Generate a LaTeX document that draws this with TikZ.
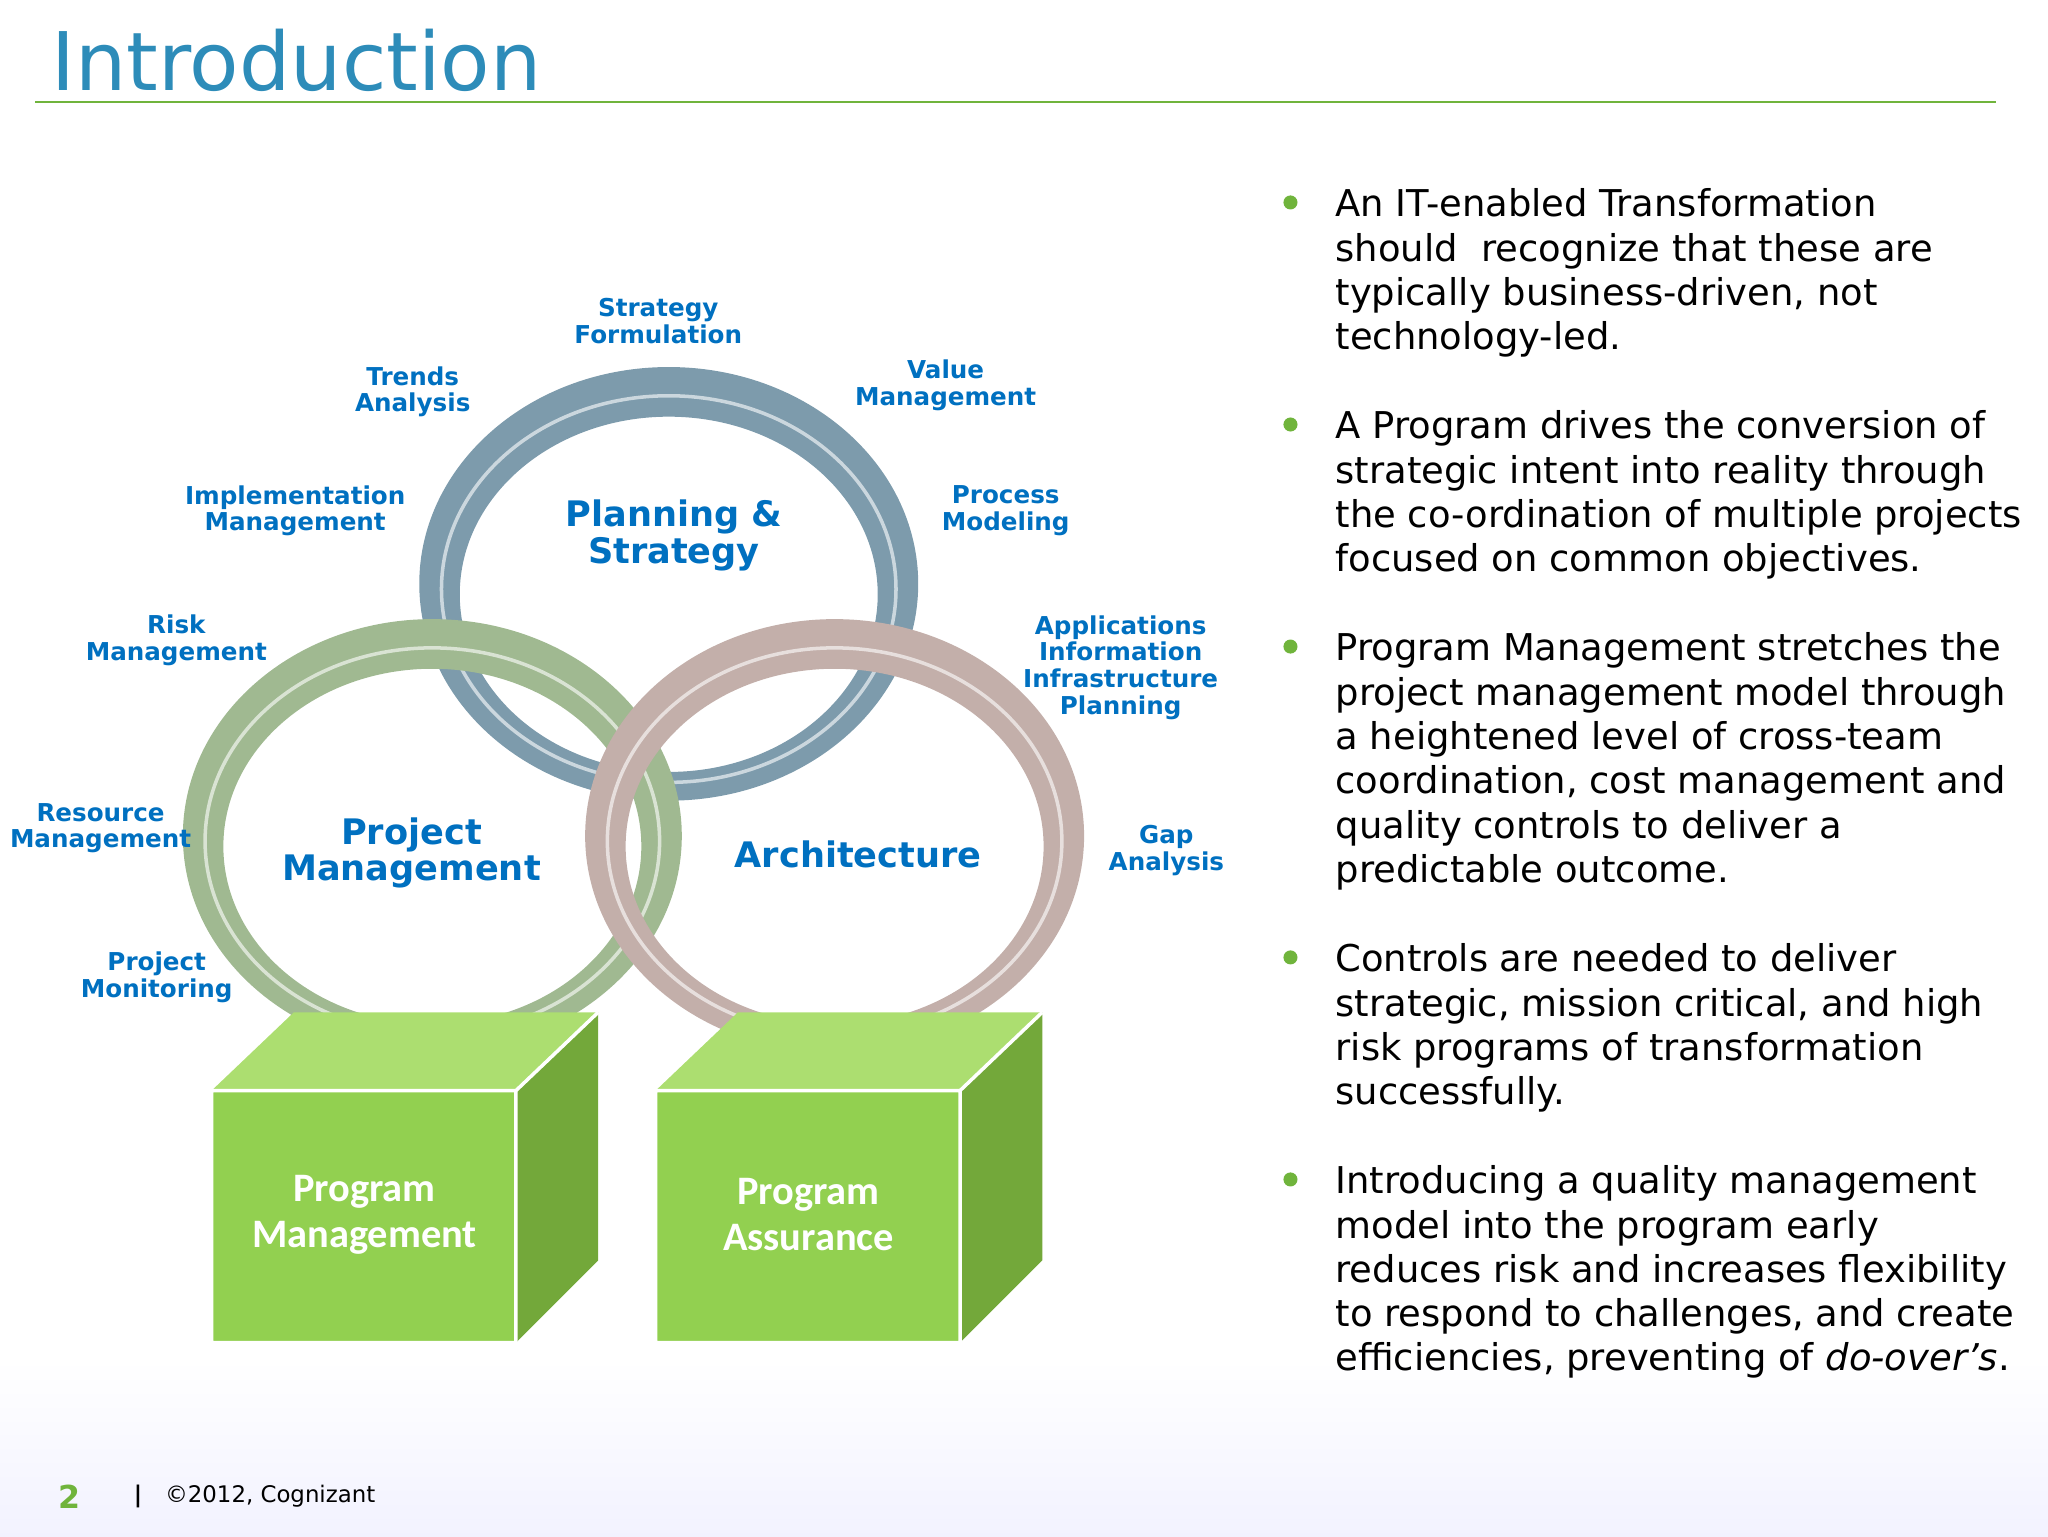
\documentclass[tikz,border=0pt]{standalone}
\usepackage{fontspec}
\setmainfont{DejaVu Sans}
\newfontfamily\carl{Carlito}
\definecolor{lb}{RGB}{0,112,192}
\definecolor{ttl}{RGB}{45,140,185}
\definecolor{rp}{RGB}{125,155,172}
\definecolor{rg}{RGB}{160,185,145}
\definecolor{ra}{RGB}{195,175,170}
\definecolor{cf}{RGB}{146,208,80}
\definecolor{ct}{RGB}{172,222,112}
\definecolor{cs}{RGB}{115,168,58}
\definecolor{gd}{RGB}{112,180,60}
\begin{document}
\begin{tikzpicture}[x=0.1306mm,y=-0.1306mm,
 lab/.style={font=\fontsize{7}{7.6}\selectfont\bfseries,text=lb,align=center},
 big/.style={font=\fontsize{10}{10.5}\selectfont\bfseries,text=lb,align=center},
 cube/.style={font=\carl\fontsize{11.5}{13}\selectfont\bfseries,text=white,align=center},
 bul/.style={anchor=north west,align=left,inner sep=0,font=\fontsize{10.5}{12.6}\selectfont},
 dot/.style={circle,fill=gd,inner sep=0,minimum size=4pt}]
\useasboundingbox (0,0) rectangle (1568,1176);
\shade[top color=white,bottom color=blue!5] (0,1040) rectangle (1568,1176);
\node[anchor=west,text=ttl,font=\fontsize{23}{25}\selectfont] (title) at (30,46) {Introduction};
\draw[gd,line width=0.6pt] (27,78) -- (1528,78);
% rings
\def\ring#1#2#3{\fill[#3,even odd rule] (#1,#2) ellipse [x radius=191,y radius=166] (#1,#2+8) ellipse [x radius=160,y radius=136];
 \draw[white!60!#3,line width=1pt] (#1,#2+4) ellipse [x radius=174,y radius=148];}
\ring{512}{447}{rp}
\ring{331}{640}{rg}
\ring{639}{640}{ra}
% cubes
\foreach \x/\n/\t in {162/pm/{Program\\Management},502/pa/{Program\\Assurance}}{
 \fill[ct] (\x,835) -- (\x+63,775) -- (\x+296,775) -- (\x+233,835) -- cycle;
 \fill[cs] (\x+233,835) -- (\x+296,775) -- (\x+296,965) -- (\x+233,1028) -- cycle;
 \fill[cf] (\x,835) rectangle (\x+233,1028);
 \draw[white,line width=1pt] (\x,835) rectangle (\x+233,1028) (\x+233,835) -- (\x+296,775);
 \node[cube] (\n) at (\x+117,930) {\t};}
\node[big] (ps) at (516,410) {Planning \&\\Strategy};
\node[big] (pj) at (315,653) {Project\\Management};
\node[big] (ar) at (657,654) {Architecture};
\node[lab] (l1) at (504,246) {Strategy\\Formulation};
\node[lab] (l2) at (316,300) {Trends\\Analysis};
\node[lab] (l3) at (724,295) {Value\\Management};
\node[lab] (l4) at (226,391) {Implementation\\Management};
\node[lab] (l5) at (770,391) {Process\\Modeling};
\node[lab] (l6) at (135,490) {Risk\\Management};
\node[lab] (l7) at (858,511) {Applications\\Information\\Infrastructure\\Planning};
\node[lab] (l8) at (77,634) {Resource\\Management};
\node[lab] (l9) at (893,651) {Gap\\Analysis};
\node[lab] (l10) at (120,748) {Project\\Monitoring};
% bullets
\foreach \y in {157,327,497,735,905}{\node[dot] at (988,\y-2) {};}
\node[bul] (b1) at (1022,144) {An IT-enabled Transformation\\should \ recognize that these are\\typically business-driven, not\\technology-led.};
\node[bul] (b2) at (1022,314) {A Program drives the conversion of\\strategic intent into reality through\\the co-ordination of multiple projects\\focused on common objectives.};
\node[bul] (b3) at (1022,484) {Program Management stretches the\\project management model through\\a heightened level of cross-team\\coordination, cost management and\\quality controls to deliver a\\predictable outcome.};
\node[bul] (b4) at (1022,722) {Controls are needed to deliver\\strategic, mission critical, and high\\risk programs of transformation\\successfully.};
\node[bul] (b5) at (1022,892) {Introducing a quality management\\model into the program early\\reduces risk and increases flexibility\\to respond to challenges, and create\\efficiencies, preventing of \textit{do-over’s}.};
\node[text=gd,font=\fontsize{9}{9}\selectfont\bfseries] (pg) at (53,1146) {2};
\node[font=\fontsize{6.5}{7}\selectfont,anchor=west] (cp) at (93,1146) {\textbf{|}\quad ©2012, Cognizant};
\end{tikzpicture}
\end{document}
